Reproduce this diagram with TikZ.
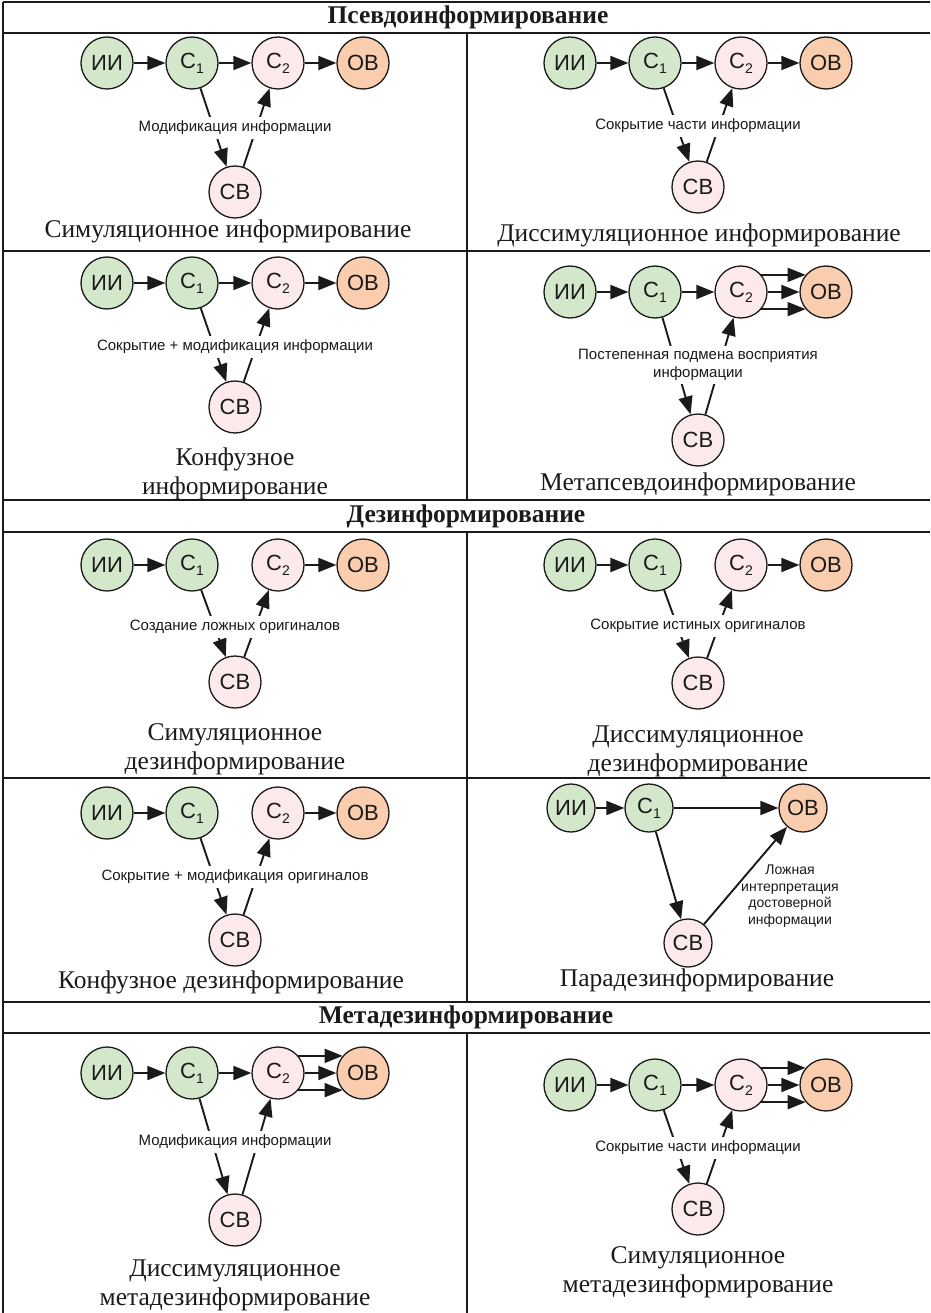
\documentclass[tikz,border=0pt]{standalone}
\usepackage{fontspec}
\setmainfont{Liberation Serif}
\newfontfamily\arialf{Liberation Sans}
\usetikzlibrary{arrows.meta}

\definecolor{ink}{HTML}{1A1A1A}
\definecolor{gfill}{HTML}{D3E7CB}
\definecolor{pfill}{HTML}{FCE9EB}
\definecolor{ofill}{HTML}{F9CDAE}

% lowered index for С1, С2
\newcommand\lowidx[1]{\raisebox{-0.4ex}{\fontsize{14}{14}\selectfont #1}}

\tikzset{
  state/.style={circle, draw=ink, line width=1.3pt, minimum size=52pt, inner sep=0pt,
    font=\arialf\fontsize{22}{22}\selectfont, text=ink},
  nsrc/.style={state, fill=gfill},
  nmid/.style={state, fill=pfill},
  ndst/.style={state, fill=ofill},
  arr/.style={draw=ink, line width=1.9pt, -{Triangle[length=18pt,width=14pt]}},
  cellnote/.style={font=\arialf\fontsize{15}{17.5}\selectfont, fill=white, inner sep=4pt,
    align=center, text=ink},
  celltitle/.style={font=\fontsize{25.5}{29}\selectfont, align=center, text=ink},
  sechead/.style={font=\bfseries\fontsize{25.5}{27}\selectfont, text=ink},
  gridline/.style={draw=ink, line width=1.4pt},
}

% common part of a scheme: five states and the three basic links
\newcommand\scheme[2]{%
  \node[nsrc] (#1ii) at (-128,0) {ИИ};
  \node[nsrc] (#1c1) at (-43,0) {С\lowidx{1}};
  \node[nmid] (#1c2) at (43,0) {С\lowidx{2}};
  \node[ndst] (#1ob) at (128,0) {ОВ};
  \node[nmid] (#1cb) at (0,#2) {СВ};
  \draw[arr] (#1ii) -- (#1c1);
  \draw[arr] (#1c1) -- (#1cb);
  \draw[arr] (#1cb) -- (#1c2);
}
% three parallel links С2 -> ОВ
\newcommand\triple[1]{%
  \draw[arr] (#1c2.40) -- (#1ob.140);
  \draw[arr] (#1c2) -- (#1ob);
  \draw[arr] (#1c2.-40) -- (#1ob.-140);
}

\begin{document}
\begin{tikzpicture}[x=1pt, y=-1pt]
\useasboundingbox (0,0) rectangle (930,1313);

% table grid
\draw[gridline] (3,2) -- (930,2);
\draw[gridline] (3,33) -- (930,33);
\draw[gridline] (3,251) -- (930,251);
\draw[gridline] (3,500) -- (930,500);
\draw[gridline] (3,532) -- (930,532);
\draw[gridline] (3,778) -- (930,778);
\draw[gridline] (3,1002) -- (930,1002);
\draw[gridline] (3,1033) -- (930,1033);
\draw[gridline] (3,2) -- (3,1313);
\draw[gridline] (467,33) -- (467,500);
\draw[gridline] (467,532) -- (467,1002);
\draw[gridline] (467,1033) -- (467,1313);

% section headers
\node[sechead] (h1) at (468,17) {Псевдоинформирование};
\node[sechead] (h2) at (466,516) {Дезинформирование};
\node[sechead] (h3) at (466,1017) {Метадезинформирование};

% --- Псевдоинформирование ---
\begin{scope}[shift={(235,63)}]
  \scheme{a}{129}
  \draw[arr] (ac1) -- (ac2);
  \draw[arr] (ac2) -- (aob);
  \node[cellnote] (an) at (0,65) {Модификация информации};
\end{scope}
\node[celltitle] (at) at (228,231) {Симуляционное информирование};

\begin{scope}[shift={(698,63)}]
  \scheme{b}{124}
  \draw[arr] (bc1) -- (bc2);
  \draw[arr] (bc2) -- (bob);
  \node[cellnote] (bn) at (0,63) {Сокрытие части информации};
\end{scope}
\node[celltitle] (bt) at (699,235) {Диссимуляционное информирование};

\begin{scope}[shift={(235,283)}]
  \scheme{c}{124}
  \draw[arr] (cc1) -- (cc2);
  \draw[arr] (cc2) -- (cob);
  \node[cellnote] (cn) at (0,64) {Сокрытие + модификация информации};
\end{scope}
\node[celltitle] (ct) at (235,474) {Конфузное\\информирование};

\begin{scope}[shift={(698,292)}]
  \scheme{d}{148}
  \draw[arr] (dc1) -- (dc2);
  \triple{d}
  \node[cellnote] (dn) at (0,73) {Постепенная подмена восприятия\\информации};
\end{scope}
\node[celltitle] (dt) at (698,484) {Метапсевдоинформирование};

% --- Дезинформирование ---
\begin{scope}[shift={(235,565)}]
  \scheme{e}{117}
  \draw[arr] (ec2) -- (eob);
  \node[cellnote] (en) at (0,62) {Создание ложных оригиналов};
\end{scope}
\node[celltitle] (et) at (235,749) {Симуляционное\\дезинформирование};

\begin{scope}[shift={(698,565)}]
  \scheme{f}{118}
  \draw[arr] (fc2) -- (fob);
  \node[cellnote] (fn) at (0,61) {Сокрытие истиных оригиналов};
\end{scope}
\node[celltitle] (ft) at (698,751) {Диссимуляционное\\дезинформирование};

\begin{scope}[shift={(235,813)}]
  \scheme{g}{127}
  \draw[arr] (gc2) -- (gob);
  \node[cellnote] (gn) at (0,64) {Сокрытие + модификация оригиналов};
\end{scope}
\node[celltitle] (gt) at (231,982) {Конфузное дезинформирование};

% paradisinformation: С1 feeds ОВ directly and through СВ
\begin{scope}[state/.append style={minimum size=48pt}]
  \node[nsrc] (pii) at (571,808) {ИИ};
  \node[nsrc] (pc1) at (649,808) {С\lowidx{1}};
  \node[ndst] (pob) at (803,808) {ОВ};
  \node[nmid] (pcb) at (688,943) {СВ};
\end{scope}
\draw[arr] (pii) -- (pc1);
\draw[arr] (pc1) -- (pob);
\draw[arr] (pc1) -- (pcb);
\draw[arr] (pcb) -- (pob);
\node[cellnote, fill=none, font=\arialf\fontsize{14}{16.5}\selectfont] (pn) at (790,896)
  {Ложная\\интерпретация\\достоверной\\информации};
\node[celltitle] (pt) at (697,980) {Парадезинформирование};

% --- Метадезинформирование ---
\begin{scope}[shift={(235,1073)}]
  \scheme{k}{147}
  \draw[arr] (kc1) -- (kc2);
  \triple{k}
  \node[cellnote] (kn) at (0,69) {Модификация информации};
\end{scope}
\node[celltitle] (kt) at (235,1285) {Диссимуляционное\\метадезинформирование};

\begin{scope}[shift={(698,1085)}]
  \scheme{m}{124}
  \draw[arr] (mc1) -- (mc2);
  \triple{m}
  \node[cellnote] (mn) at (0,63) {Сокрытие части информации};
\end{scope}
\node[celltitle] (mt) at (698,1272) {Симуляционное\\метадезинформирование};

\end{tikzpicture}
\end{document}
